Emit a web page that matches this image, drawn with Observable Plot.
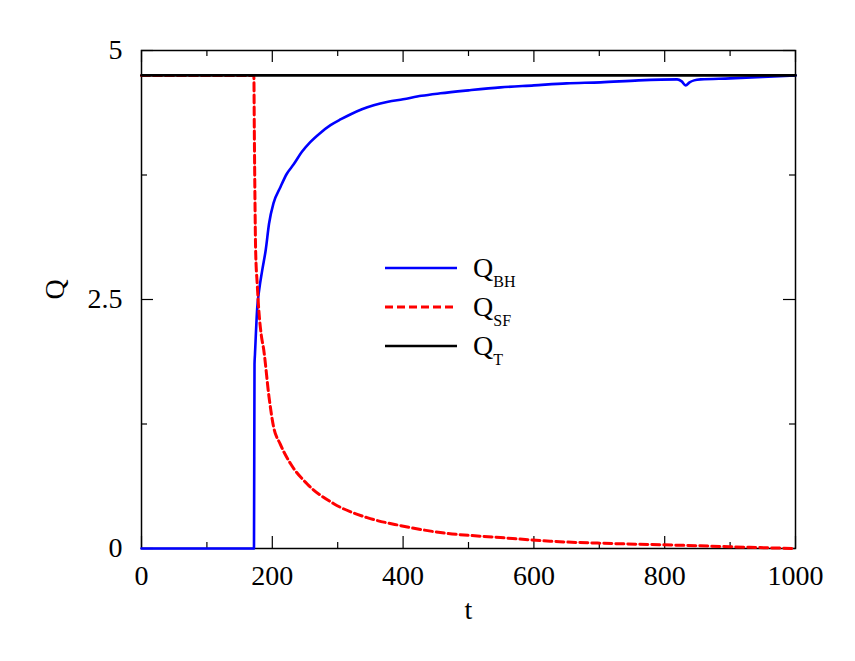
<!DOCTYPE html>
<html><head><meta charset="utf-8">
<script src="https://cdn.jsdelivr.net/npm/d3@7"></script>
<script src="https://cdn.jsdelivr.net/npm/@observablehq/plot@0.6"></script>
<style>
body{margin:0;background:#fff;}
#wrap{position:relative;width:855px;height:661px;}
#wrap svg text{font-family:"Liberation Serif","DejaVu Serif","Times New Roman",Times,serif !important;}
#legend{position:absolute;left:0;top:0;pointer-events:none;}
</style></head><body><div id="wrap"></div>
<script>
// Q_BH(t)
const tBH = [0, 172, 172.8, 173.5, 177, 180, 184.5, 190, 195, 202, 212.5, 222, 233, 245, 258, 273, 289, 305, 320, 337, 355, 377, 400, 428, 457, 500, 549, 600, 650, 702, 760, 819, 826, 832, 838, 845, 855, 900, 950, 1000];
const qBH = [0, 0, 1.85, 1.95, 2.42, 2.6, 2.79, 3.0, 3.26, 3.47, 3.63, 3.76, 3.86, 3.98, 4.08, 4.17, 4.25, 4.31, 4.36, 4.41, 4.45, 4.485, 4.51, 4.545, 4.57, 4.60, 4.63, 4.65, 4.67, 4.68, 4.70, 4.71, 4.69, 4.65, 4.68, 4.70, 4.71, 4.72, 4.735, 4.75];
// Q_SF(t)
const tSF = [0, 171.8, 172.5, 173.5, 174.5, 177, 179.4, 183, 187, 195, 202, 212, 228, 253, 294, 345, 396, 457, 549, 625, 702, 778, 855, 930, 1000];
const qSF = [4.75, 4.75, 4.2, 3.5, 3.0, 2.65, 2.39, 2.15, 1.99, 1.52, 1.22, 1.05, 0.85, 0.65, 0.45, 0.31, 0.23, 0.16, 0.11, 0.073, 0.053, 0.04, 0.027, 0.012, 0.0];
// Q_T(t)
const tT = [0, 1000];
const qT = [4.75, 4.75];

const xMajor = [0, 200, 400, 600, 800, 1000];
const xMinor = [100, 300, 500, 700, 900];
const yMajor = [0, 2.5, 5];
const yMinor = [1.25, 3.75];
const xLabel = "t";
const yLabel = "Q";
const seriesNames = ["BH", "SF", "T"];
const seriesColors = ["#0000ff", "#ff0000", "#000000"];
const seriesDash = [null, "8,4", null];

const W = 855, H = 661, mL = 141, mR = 60, mT = 50, mB = 113;
const innerH = H - mT - mB, innerW = W - mL - mR;
const font = "Liberation Serif, DejaVu Serif, Times New Roman, serif";

const bh = tBH.map((t, i) => ({t, q: qBH[i]}));
const sf = tSF.map((t, i) => ({t, q: qSF[i]}));
const tot = tT.map((t, i) => ({t, q: qT[i]}));

const plot = Plot.plot({
  width: W, height: H,
  marginLeft: mL, marginRight: mR, marginTop: mT, marginBottom: mB,
  x: {domain: [0, 1000]},
  y: {domain: [0, 5]},
  style: {fontFamily: font, fontSize: "28px", color: "#000", background: "#fff", overflow: "visible"},
  marks: [
    Plot.axisX(xMajor, {tickSize: 0, tickPadding: 17, fontSize: 28, label: null, tickFormat: d => String(d)}),
    Plot.axisY(yMajor, {tickSize: 0, tickPadding: 19, fontSize: 28, label: null, tickFormat: d => String(d)}),
    Plot.ruleX(xMajor, {insetTop: innerH - 12, stroke: "#000", strokeWidth: 1.2}),
    Plot.ruleX(xMajor, {insetBottom: innerH - 12, stroke: "#000", strokeWidth: 1.2}),
    Plot.ruleX(xMinor, {insetTop: innerH - 6, stroke: "#000", strokeWidth: 1.2}),
    Plot.ruleX(xMinor, {insetBottom: innerH - 6, stroke: "#000", strokeWidth: 1.2}),
    Plot.ruleY(yMajor, {insetRight: innerW - 12, stroke: "#000", strokeWidth: 1.2}),
    Plot.ruleY(yMajor, {insetLeft: innerW - 12, stroke: "#000", strokeWidth: 1.2}),
    Plot.ruleY(yMinor, {insetRight: innerW - 6, stroke: "#000", strokeWidth: 1.2}),
    Plot.ruleY(yMinor, {insetLeft: innerW - 6, stroke: "#000", strokeWidth: 1.2}),
    Plot.frame({stroke: "#000", strokeWidth: 1.5}),
    Plot.line(bh, {x: "t", y: "q", stroke: seriesColors[0], strokeWidth: 2.6, curve: "monotone-x"}),
    Plot.line(sf, {x: "t", y: "q", stroke: seriesColors[1], strokeWidth: 3, strokeDasharray: seriesDash[1], curve: "monotone-x"}),
    Plot.line(tot, {x: "t", y: "q", stroke: seriesColors[2], strokeWidth: 2.8}),
    Plot.text([yLabel], {text: d => d, frameAnchor: "left", dx: -86, rotate: -90, fontSize: 28}),
    Plot.text([xLabel], {text: d => d, frameAnchor: "bottom", dy: 70, fontSize: 28})
  ]
});
const wrap = document.getElementById("wrap");
wrap.appendChild(plot);

// legend overlay
const svg = d3.select(wrap).append("svg").attr("id", "legend")
  .attr("width", W).attr("height", H);
seriesNames.forEach((name, i) => {
  const y = 268 + i * 39;
  svg.append("line").attr("x1", 385).attr("x2", 457).attr("y1", y).attr("y2", y)
    .attr("stroke", seriesColors[i]).attr("stroke-width", i === 1 ? 3 : 2.6)
    .attr("stroke-dasharray", seriesDash[i]);
  const t = svg.append("text").attr("x", 473).attr("y", y + 9).attr("font-size", 28).attr("fill", "#000");
  t.append("tspan").text("Q");
  t.append("tspan").attr("font-size", 16).attr("dy", 10).text(name);
});
</script></body></html>
